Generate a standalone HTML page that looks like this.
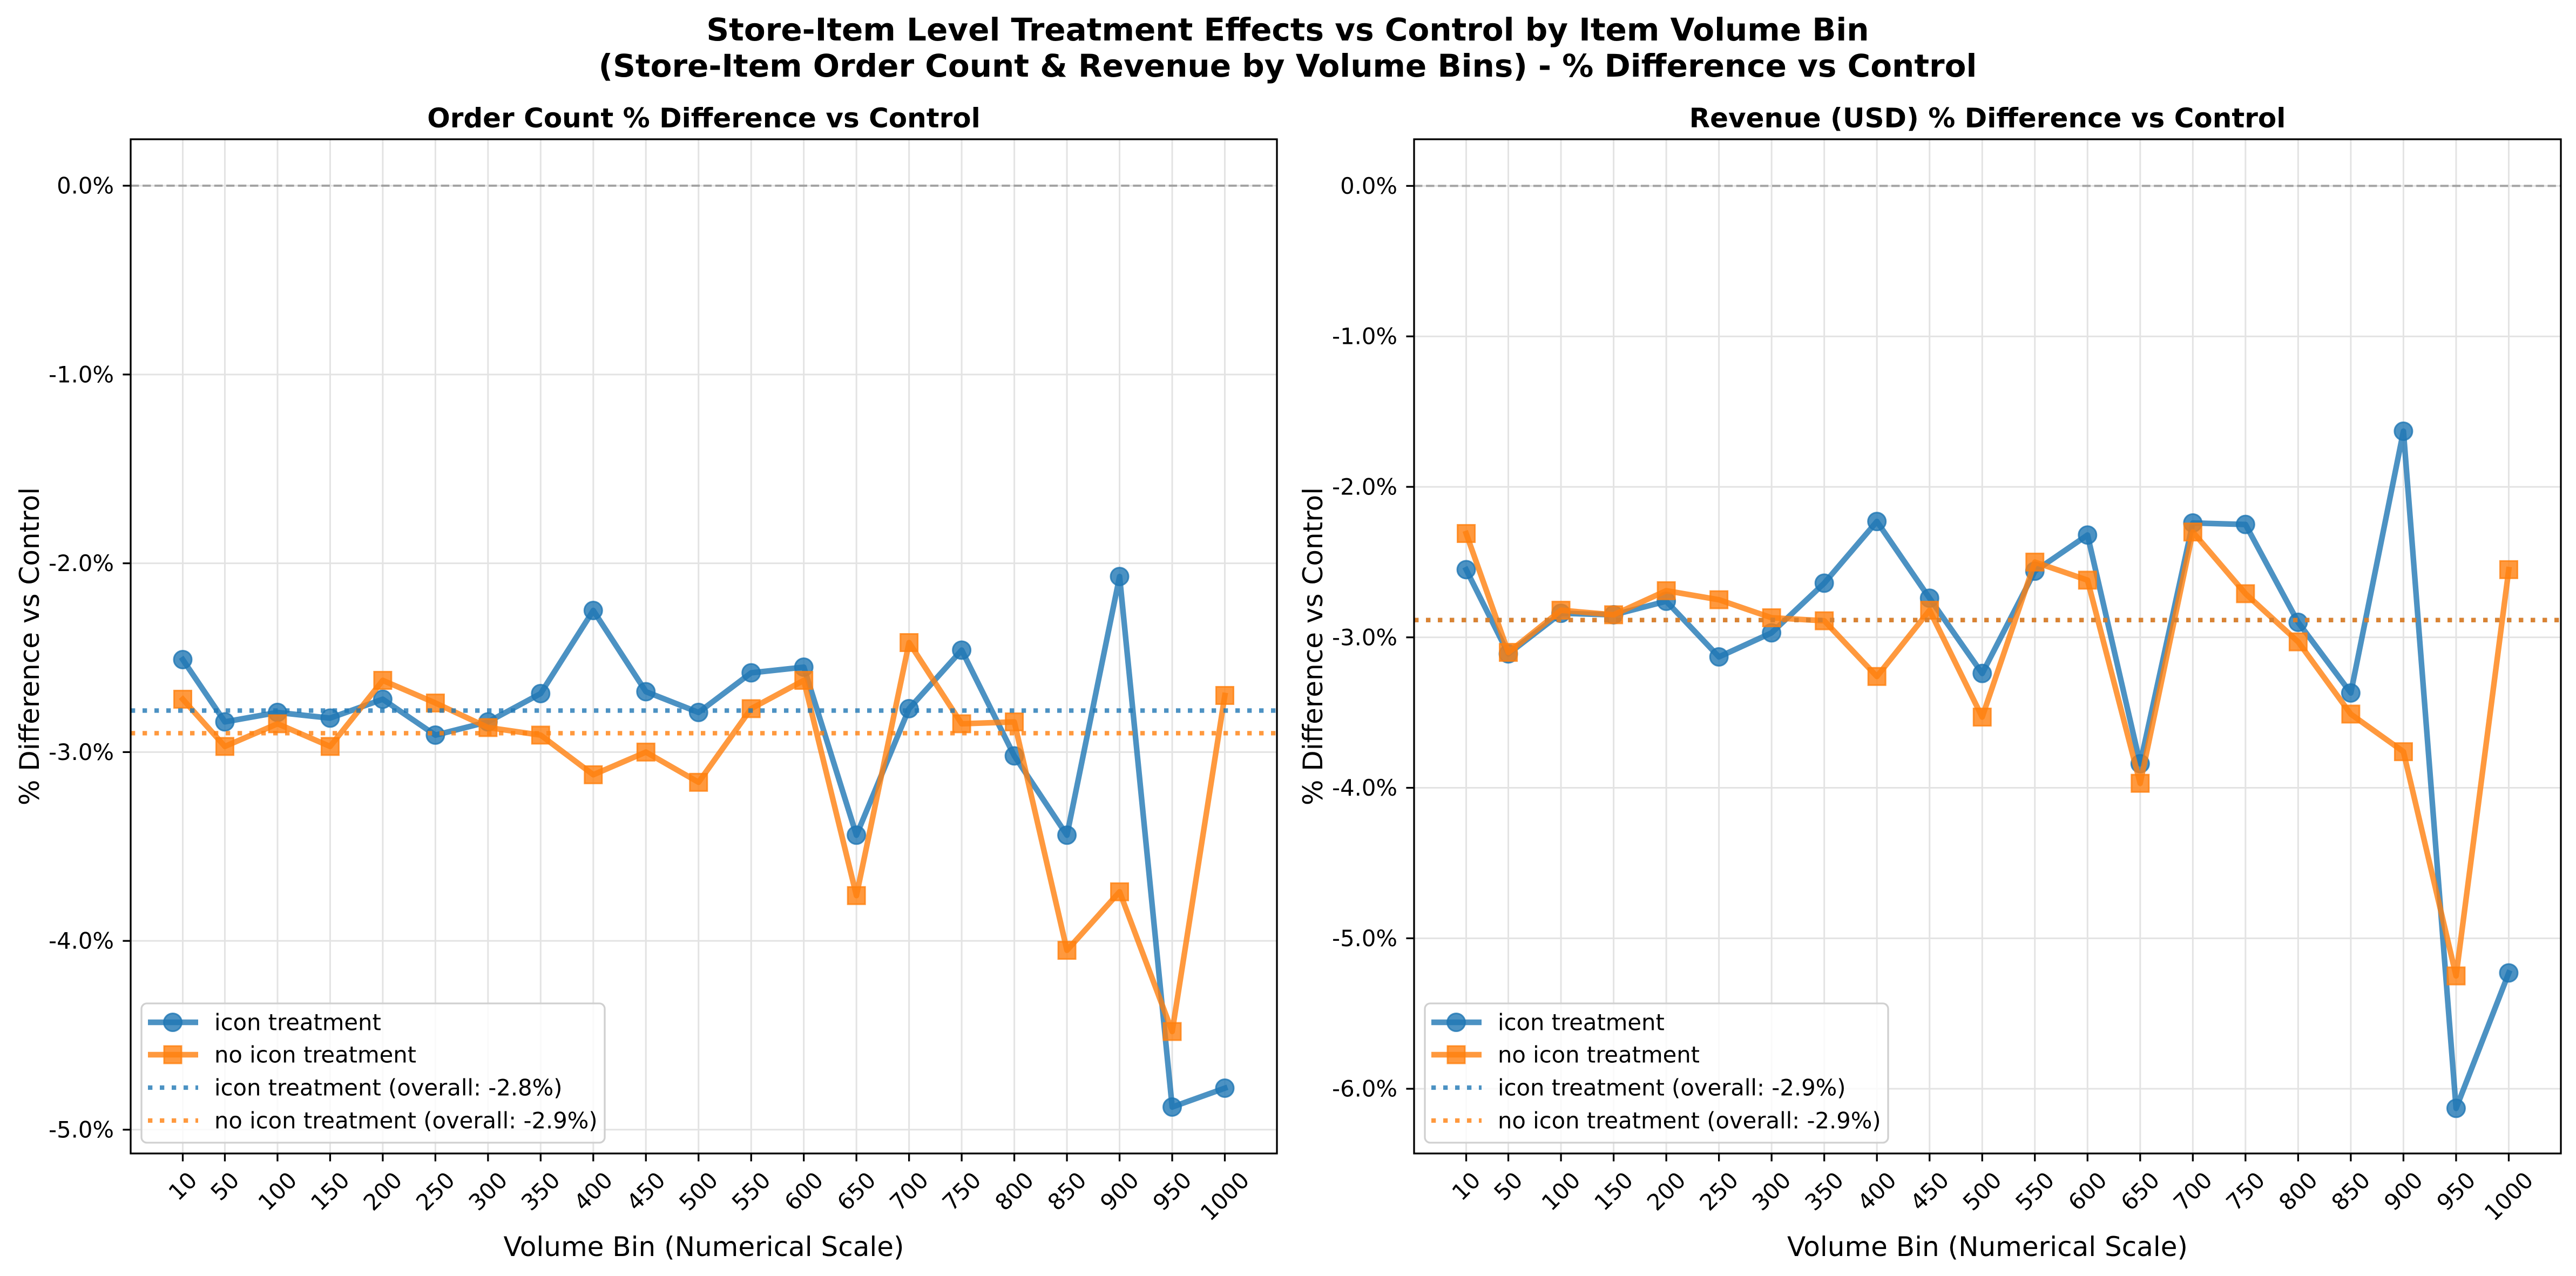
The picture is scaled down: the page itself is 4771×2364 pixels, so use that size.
<!DOCTYPE html>
<html><head><meta charset="utf-8"><style>
html,body{margin:0;padding:0;background:#fff;}
svg{display:block;font-family:"DejaVu Sans","Liberation Sans",sans-serif;}
</style></head><body>
<svg id="fig" width="4771" height="2364" viewBox="0 0 4771 2364" xmlns="http://www.w3.org/2000/svg">
<rect width="4771" height="2364" fill="#fff"/>
<text x="2385" y="55" text-anchor="middle" dominant-baseline="central" font-size="58" font-weight="bold">Store-Item Level Treatment Effects vs Control by Item Volume Bin</text>
<text x="2385" y="122" text-anchor="middle" dominant-baseline="central" font-size="58" font-weight="bold">(Store-Item Order Count &amp; Revenue by Volume Bins) - % Difference vs Control</text>
<g id="p1"></g>
<g id="p2"></g>
</svg>
<script>
const bins = [10,50,100,150,200,250,300,350,400,450,500,550,600,650,700,750,800,850,900,950,1000];
const binLabels = ["10","50","100","150","200","250","300","350","400","450","500","550","600","650","700","750","800","850","900","950","1000"];
const orderIcon = [-2.51,-2.84,-2.79,-2.82,-2.72,-2.91,-2.84,-2.69,-2.25,-2.68,-2.79,-2.58,-2.55,-3.44,-2.77,-2.46,-3.02,-3.44,-2.07,-4.88,-4.78];
const orderNoIcon = [-2.72,-2.97,-2.85,-2.97,-2.62,-2.74,-2.87,-2.91,-3.12,-3.00,-3.16,-2.77,-2.62,-3.76,-2.42,-2.85,-2.84,-4.05,-3.74,-4.48,-2.70];
const orderOverall = [-2.78,-2.90];
const orderTicks = [0,-1,-2,-3,-4,-5];
const orderTickLabels = ["0.0%","-1.0%","-2.0%","-3.0%","-4.0%","-5.0%"];
const revIcon = [-2.55,-3.11,-2.84,-2.85,-2.76,-3.13,-2.97,-2.64,-2.23,-2.74,-3.24,-2.56,-2.32,-3.84,-2.24,-2.25,-2.90,-3.37,-1.63,-6.13,-5.23];
const revNoIcon = [-2.31,-3.10,-2.82,-2.85,-2.69,-2.75,-2.87,-2.89,-3.26,-2.82,-3.53,-2.50,-2.62,-3.97,-2.30,-2.71,-3.03,-3.51,-3.76,-5.25,-2.55];
const revOverall = [-2.885,-2.885];
const revTicks = [0,-1,-2,-3,-4,-5,-6];
const revTickLabels = ["0.0%","-1.0%","-2.0%","-3.0%","-4.0%","-5.0%","-6.0%"];
const overallLabels = [["icon treatment (overall: -2.8%)","no icon treatment (overall: -2.9%)"],["icon treatment (overall: -2.9%)","no icon treatment (overall: -2.9%)"]];

const NS="http://www.w3.org/2000/svg";
const BLUE="#1f77b4", ORANGE="#ff7f0e";
function mk(parent,tag,attrs,text){const e=document.createElementNS(NS,tag);for(const k in attrs)e.setAttribute(k,attrs[k]);if(text!==undefined)e.textContent=text;parent.appendChild(e);return e;}

function panel(g,L,R,T,B,ymin,ymax,icon,noIcon,overall,ticks,tickLabels,title,ovl){
  const xmin=-39.5,xmax=1049.5;
  const X=v=>L+(v-xmin)/(xmax-xmin)*(R-L);
  const Y=v=>T+(ymax-v)/(ymax-ymin)*(B-T);
  bins.forEach((b,i)=>{const l=mk(g,'line',{x1:X(b),x2:X(b),y1:T,y2:B,stroke:'#e3e3e3','stroke-width':3});
    
    });
  ticks.forEach((t,i)=>{const l=mk(g,'line',{x1:L,x2:R,y1:Y(t),y2:Y(t),stroke:'#e3e3e3','stroke-width':3});
    
    });
  const z=mk(g,'line',{x1:L,x2:R,y1:Y(0),y2:Y(0),stroke:'#999','stroke-width':4,'stroke-dasharray':'15.4 6.7','opacity':0.85});
  
  
  const series=[[icon,BLUE,'circle','icon-treatment-series'],[noIcon,ORANGE,'square','no-icon-treatment-series']];
  series.forEach(([vals,col,shape,name])=>{
    const sg=mk(g,'g',{});
    
    
    const pts=vals.map((v,i)=>X(bins[i]).toFixed(1)+','+Y(v).toFixed(1)).join(' ');
    const pl=mk(sg,'polyline',{points:pts,fill:'none',stroke:col,'stroke-width':10.4,'stroke-opacity':0.8,'stroke-linejoin':'round','stroke-linecap':'square'});
    
    
    vals.forEach((v,i)=>{
      let m;
      if(shape==='circle') m=mk(sg,'circle',{cx:X(bins[i]),cy:Y(v),r:16.5,fill:col,'fill-opacity':0.8,stroke:col,'stroke-opacity':0.8,'stroke-width':3});
      else m=mk(sg,'rect',{x:X(bins[i])-16,y:Y(v)-16,width:32,height:32,fill:col,'fill-opacity':0.8,stroke:col,'stroke-opacity':0.8,'stroke-width':3});
      
      
    });
  });
  overall.forEach((v,i)=>{const l=mk(g,'line',{x1:L,x2:R,y1:Y(v),y2:Y(v),stroke:i?ORANGE:BLUE,'stroke-width':8.3,'stroke-dasharray':'8.3 13.7','stroke-opacity':0.8});
    
    });
  const fr=mk(g,'rect',{x:L,y:T,width:R-L,height:B-T,fill:'none',stroke:'#000','stroke-width':3.3});
  
  
  bins.forEach((b,i)=>{
    const tk=mk(g,'line',{x1:X(b),x2:X(b),y1:B,y2:B+14.6,stroke:'#000','stroke-width':3.3});
    
    
    const lab=binLabels[i];const w=lab.length*26.5,h=42;
    const cx=X(b),cy=B+27+(w+h)/2.828;
    const t=mk(g,'text',{x:cx,y:cy,'text-anchor':'middle','dominant-baseline':'central','font-size':41.7,transform:`rotate(-45 ${cx} ${cy})`},lab);
    
    
  });
  ticks.forEach((tv,i)=>{
    const tk=mk(g,'line',{x1:L-14.6,x2:L,y1:Y(tv),y2:Y(tv),stroke:'#000','stroke-width':3.3});
    
    
    const t=mk(g,'text',{x:L-31,y:Y(tv),'text-anchor':'end','dominant-baseline':'central','font-size':41.7},tickLabels[i]);
    
    
  });
  const tt=mk(g,'text',{x:(L+R)/2,y:219,'text-anchor':'middle','dominant-baseline':'central','font-size':50,'font-weight':'bold'},title);
  
  
  const xl=mk(g,'text',{x:(L+R)/2,y:2310,'text-anchor':'middle','dominant-baseline':'central','font-size':50},'Volume Bin (Numerical Scale)');
  
  
  const yx=L-187,yy=(T+B)/2;
  const yl=mk(g,'text',{x:yx,y:yy,'text-anchor':'middle','dominant-baseline':'central','font-size':50,transform:`rotate(-90 ${yx} ${yy})`},'% Difference vs Control');
  
  
  const lg=mk(g,'g',{});
  
  
  const lx=L+20;
  const box=mk(lg,'rect',{x:lx,y:1859,width:858,height:258,rx:10,fill:'#fff','fill-opacity':0.8,stroke:'#d0d0d0','stroke-width':3.3});
  
  
  const rows=[1894,1954,2015,2076];
  const labels=['icon treatment','no icon treatment',ovl[0],ovl[1]];
  rows.forEach((ry,i)=>{
    const col=(i%2===0)?BLUE:ORANGE;
    const eg=mk(lg,'g',{});
    
    
    if(i<2){
      mk(eg,'line',{x1:lx+12,x2:lx+105,y1:ry,y2:ry,stroke:col,'stroke-width':10.4,'stroke-opacity':0.8});
      if(i===0) mk(eg,'circle',{cx:lx+58,cy:ry,r:16.5,fill:col,'fill-opacity':0.8,stroke:col,'stroke-opacity':0.8,'stroke-width':3});
      else mk(eg,'rect',{x:lx+42,y:ry-16,width:32,height:32,fill:col,'fill-opacity':0.8,stroke:col,'stroke-opacity':0.8,'stroke-width':3});
    } else {
      mk(eg,'line',{x1:lx+12,x2:lx+105,y1:ry,y2:ry,stroke:col,'stroke-width':8.3,'stroke-dasharray':'8.3 13.7','stroke-opacity':0.8});
    }
    mk(eg,'text',{x:lx+135,y:ry,'dominant-baseline':'central','font-size':41.7},labels[i]);
  });
}
panel(document.getElementById('p1'),242,2365,258,2137,-5.126,0.246,orderIcon,orderNoIcon,orderOverall,orderTicks,orderTickLabels,'Order Count % Difference vs Control',overallLabels[0]);
panel(document.getElementById('p2'),2619,4743,258,2137,-6.43,0.31,revIcon,revNoIcon,revOverall,revTicks,revTickLabels,'Revenue (USD) % Difference vs Control',overallLabels[1]);
</script>
</body></html>
